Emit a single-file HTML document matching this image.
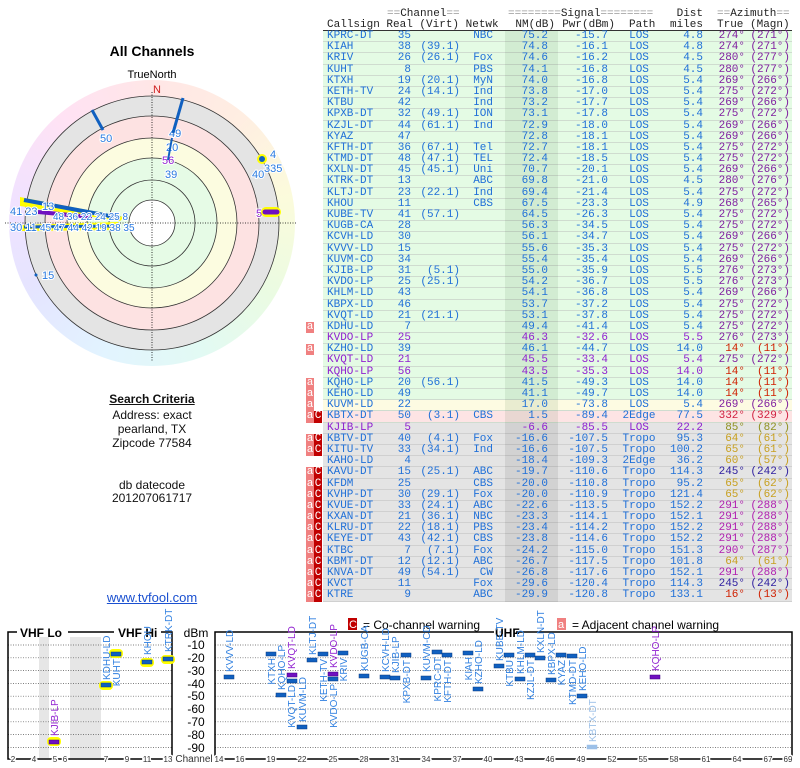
<!DOCTYPE html>
<html><head><meta charset="utf-8"><style>
body{margin:0;width:800px;height:768px;background:#fff;position:relative;overflow:hidden;font-family:"Liberation Sans",sans-serif}
#tbl{position:absolute;left:0;top:31px;width:800px;font:11px/11.2px "Liberation Mono",monospace;color:#2070d8}
.r{position:relative;height:11.2px;white-space:pre}
.r>span{position:absolute;top:0}
.bg{left:323px;width:469px;height:10.2px;border-bottom:1px solid #cfdccf}
.g .bg{background:#e4fbe4}.y .bg{background:#fdfbe2}.p .bg{background:#fde4e4}.q .bg{background:#e4e4e4;border-color:#d0d0d0}
.sh{left:505px;width:53px;height:11.2px;background:rgba(0,60,0,.08)}
.q .sh{background:rgba(0,0,0,.08)}
.c{left:327px}.re{right:389px}.vi{right:340px}.ne{right:307px}.nm{right:252px}.pw{right:192px}.pa{left:614px;width:50px;text-align:center}.di{right:97px}.tr{right:55px}.mg{right:10px}
.A{left:306px;width:8px;background:#f08080;color:#fff;text-align:center}
.C{left:314px;width:8px;background:#c00000;color:#fff;text-align:center}
.pu{color:#9020d0}
.z1 .tr,.z1 .mg{color:#8020a0}.z2 .tr,.z2 .mg{color:#d02000}.z3 .tr,.z3 .mg{color:#d02040}.z4 .tr,.z4 .mg{color:#909020}.z5 .tr,.z5 .mg{color:#c8a020}.z6 .tr,.z6 .mg{color:#3020a0}.z7 .tr,.z7 .mg{color:#b020b0}
#hd{position:absolute;left:0;top:9px;width:800px;font:11px/11px "Liberation Mono",monospace;color:#222}
#hd div{position:relative;height:11px;white-space:pre}#hd span{position:absolute}
.e{color:#999}
.lt{position:absolute;width:304px;text-align:center;font-size:12px;color:#111}
</style></head><body>
<div style="position:absolute;left:9px;top:80px;width:286px;height:286px;border-radius:50%;opacity:.75;background:conic-gradient(#ffdede,#ffe8d8,#fafad0,#e4fad8,#d8f8f0,#d8f0ff,#dcdcff,#ecd8ff,#ffd8f0,#ffdede)"></div>
<svg width="800" height="768" style="position:absolute;left:0;top:0" font-family="Liberation Sans, sans-serif">
<text x="152" y="56" text-anchor="middle" font-size="14" font-weight="bold">All Channels</text>
<text x="152" y="78" text-anchor="middle" font-size="11">TrueNorth</text>
<circle cx="152" cy="223" r="127" fill="#e4e4e4"/>
<circle cx="152" cy="223" r="107" fill="#fde2e2"/>
<circle cx="152" cy="223" r="85" fill="#fcfce0"/>
<circle cx="152" cy="223" r="65" fill="#e6fbe6"/>
<circle cx="152" cy="223" r="23" fill="#fff"/>
<g fill="none" stroke="#333" stroke-width="0.8"><circle cx="152" cy="223" r="127"/><circle cx="152" cy="223" r="107"/><circle cx="152" cy="223" r="85"/><circle cx="152" cy="223" r="65"/><circle cx="152" cy="223" r="43"/><circle cx="152" cy="223" r="23"/></g>
<g stroke="#000" stroke-width="0.8" stroke-dasharray="1,1.5"><line x1="5" y1="223" x2="297" y2="223"/><line x1="152" y1="92" x2="152" y2="362"/></g>
<text x="157" y="93" text-anchor="middle" font-size="11" fill="#d02020">N</text>
<polygon points="20,197 124,217 120,221 20,206" fill="#ffff00"/>
<line x1="24" y1="200" x2="120" y2="218" stroke="#1060c0" stroke-width="4"/>
<polygon points="22,225 118,222 118,230 22,231" fill="#ffff00"/>
<line x1="24" y1="227" x2="115" y2="226" stroke="#1060c0" stroke-width="3"/>
<line x1="38" y1="212" x2="92" y2="217" stroke="#7010c0" stroke-width="4"/>
<g font-size="11" fill="#2a7ae0" stroke="#fff" stroke-width="2" paint-order="stroke">
<text x="42" y="210">13</text><text x="10" y="215">41 23</text>
<text x="53" y="220" font-size="10">48 36 22 24 25 8</text>
<text x="10" y="231">30 11</text><text x="40" y="231" font-size="10">45 47 44 42 19 38 35</text>
<text x="100" y="142">50</text><text x="169" y="137">49</text><text x="166" y="151">20</text><text x="165" y="178">39</text>
<text x="270" y="158">4</text><text x="252" y="178">40</text><text x="264" y="172">335</text><text x="42" y="279">15</text>
<text x="162" y="164" fill="#9020d0">56</text><text x="256" y="217" fill="#9020d0">5</text>
</g>
<line x1="92" y1="110" x2="103" y2="130" stroke="#1060c0" stroke-width="3"/>
<line x1="183" y1="98" x2="173" y2="133" stroke="#1060c0" stroke-width="3"/>
<line x1="172" y1="138" x2="168" y2="160" stroke="#1060c0" stroke-width="2"/>
<circle cx="262" cy="159" r="5" fill="#ffff00"/><circle cx="262" cy="159" r="3" fill="#1060c0"/>
<rect x="261" y="207" width="20" height="10" rx="5" fill="#ffff00"/><line x1="265" y1="212" x2="277" y2="212" stroke="#7010c0" stroke-width="5" stroke-linecap="round"/>
<circle cx="36" cy="275" r="1.5" fill="#1060c0"/>
<rect x="348" y="618" width="9" height="12" fill="#c00000"/><text x="349" y="628" font-size="11" fill="#fff">C</text>
<text x="363" y="629" font-size="12">= Co-channel warning</text>
<rect x="557" y="618" width="9" height="12" fill="#f08080"/><text x="558" y="628" font-size="11" fill="#fff">a</text>
<text x="572" y="629" font-size="12">= Adjacent channel warning</text>
<rect x="39" y="637" width="10" height="121" fill="#e6e6e6"/><rect x="70" y="637" width="31" height="121" fill="#e6e6e6"/>
<g stroke="#555" stroke-width="0.7" stroke-dasharray="1,1.5">
<line x1="8" y1="645" x2="172" y2="645"/><line x1="8" y1="657.8" x2="172" y2="657.8"/><line x1="8" y1="670.6" x2="172" y2="670.6"/><line x1="8" y1="683.4" x2="172" y2="683.4"/><line x1="8" y1="696.2" x2="172" y2="696.2"/><line x1="8" y1="709" x2="172" y2="709"/><line x1="8" y1="721.8" x2="172" y2="721.8"/><line x1="8" y1="734.6" x2="172" y2="734.6"/><line x1="8" y1="747.4" x2="172" y2="747.4"/>
<line x1="215" y1="645" x2="792" y2="645"/><line x1="215" y1="657.8" x2="792" y2="657.8"/><line x1="215" y1="670.6" x2="792" y2="670.6"/><line x1="215" y1="683.4" x2="792" y2="683.4"/><line x1="215" y1="696.2" x2="792" y2="696.2"/><line x1="215" y1="709" x2="792" y2="709"/><line x1="215" y1="721.8" x2="792" y2="721.8"/><line x1="215" y1="734.6" x2="792" y2="734.6"/><line x1="215" y1="747.4" x2="792" y2="747.4"/>
</g>
<g fill="none" stroke="#000" stroke-width="1.5">
<polyline points="17,632 8,632 8,759 172,759 172,632 161,632"/><line x1="68" y1="632" x2="114" y2="632"/>
<polyline points="494,632 215,632 215,759 792,759 792,632 516,632"/>
</g>
<g font-size="12" font-weight="bold"><text x="20" y="637">VHF Lo</text><text x="118" y="637">VHF Hi</text><text x="495" y="637">UHF</text></g>
<g font-size="12" text-anchor="middle"><text x="196" y="637">dBm</text><text x="196" y="649">-10</text><text x="196" y="662">-20</text><text x="196" y="675">-30</text><text x="196" y="688">-40</text><text x="196" y="700">-50</text><text x="196" y="713">-60</text><text x="196" y="726">-70</text><text x="196" y="739">-80</text><text x="196" y="752">-90</text></g>
<g font-size="8" text-anchor="middle" fill="#333" stroke="#fff" stroke-width="3" paint-order="stroke">
<text x="13" y="762">2</text><text x="34" y="762">4</text><text x="55" y="762">5</text><text x="65" y="762">6</text><text x="106" y="762">7</text><text x="127" y="762">9</text><text x="147" y="762">11</text><text x="168" y="762">13</text>
<text x="194" y="762" font-size="10">Channel</text>
<text x="219" y="762">14</text><text x="240" y="762">16</text><text x="271" y="762">19</text><text x="302" y="762">22</text><text x="333" y="762">25</text><text x="364" y="762">28</text><text x="395" y="762">31</text><text x="426" y="762">34</text><text x="457" y="762">37</text><text x="488" y="762">40</text><text x="519" y="762">43</text><text x="550" y="762">46</text><text x="581" y="762">49</text><text x="612" y="762">52</text><text x="643" y="762">55</text><text x="674" y="762">58</text><text x="706" y="762">61</text><text x="737" y="762">64</text><text x="768" y="762">67</text><text x="788" y="762">69</text>
</g>
<g fill="#ffff00"><rect x="47" y="737" width="14" height="9" rx="4"/><rect x="99" y="681" width="14" height="9" rx="4"/><rect x="109" y="649" width="14" height="9" rx="4"/><rect x="140" y="658" width="14" height="9" rx="4"/><rect x="161" y="655" width="14" height="9" rx="4"/></g>
<g fill="#1060c0" stroke="#0a3a80" stroke-width="0.5">
<rect x="101" y="683" width="10" height="4"/><rect x="111" y="652" width="10" height="4"/><rect x="142" y="660" width="10" height="4"/><rect x="163" y="657" width="10" height="4"/>
<rect x="224" y="675" width="10" height="4"/><rect x="266" y="652" width="10" height="4"/><rect x="276" y="693" width="10" height="4"/><rect x="287" y="679" width="10" height="4"/><rect x="297" y="725" width="10" height="4"/><rect x="307" y="658" width="10" height="4"/><rect x="318" y="652" width="10" height="4"/><rect x="328" y="677" width="10" height="4"/><rect x="338" y="651" width="10" height="4"/><rect x="359" y="674" width="10" height="4"/><rect x="380" y="675" width="10" height="4"/><rect x="390" y="676" width="10" height="4"/><rect x="401" y="653" width="10" height="4"/><rect x="421" y="676" width="10" height="4"/><rect x="432" y="650" width="10" height="4"/><rect x="442" y="653" width="10" height="4"/><rect x="463" y="651" width="10" height="4"/><rect x="473" y="687" width="10" height="4"/><rect x="494" y="664" width="10" height="4"/><rect x="504" y="653" width="10" height="4"/><rect x="515" y="677" width="10" height="4"/><rect x="525" y="653" width="10" height="4"/><rect x="535" y="656" width="10" height="4"/><rect x="546" y="678" width="10" height="4"/><rect x="556" y="653" width="10" height="4"/><rect x="567" y="654" width="10" height="4"/><rect x="577" y="694" width="10" height="4"/>
<rect x="587" y="745" width="10" height="4" fill="#9cc0e8" stroke="#9cc0e8"/>
</g>
<g fill="#7010c0" stroke="#400080" stroke-width="0.5"><rect x="49" y="740" width="10" height="4"/><rect x="287" y="673" width="10" height="4"/><rect x="328" y="672" width="10" height="4"/><rect x="650" y="675" width="10" height="4"/></g>
<g font-size="10" fill="#3080e0">
<text transform="translate(110,680) rotate(-90)">KDHU-LD</text>
<text transform="translate(120,659) rotate(-90)" text-anchor="end">KUHT</text>
<text transform="translate(151,655) rotate(-90)">KHOU</text>
<text transform="translate(172,652) rotate(-90)">KTRK-DT</text>
<text transform="translate(233,672) rotate(-90)">KVVV-LD</text>
<text transform="translate(275,658) rotate(-90)" text-anchor="end">KTXH</text>
<text transform="translate(285,690) rotate(-90)">KQHO-LP</text>
<text transform="translate(295,685) rotate(-90)" text-anchor="end">KVQT-LD</text>
<text transform="translate(306,722) rotate(-90)">KUVM-LD</text>
<text transform="translate(316,655) rotate(-90)">KLTJ-DT</text>
<text transform="translate(327,659) rotate(-90)" text-anchor="end">KETH-TV</text>
<text transform="translate(337,684) rotate(-90)" text-anchor="end">KVDO-LP</text>
<text transform="translate(347,658) rotate(-90)" text-anchor="end">KRIV</text>
<text transform="translate(368,671) rotate(-90)">KUGB-CA</text>
<text transform="translate(389,672) rotate(-90)">KCVH-LD</text>
<text transform="translate(399,673) rotate(-90)">KJIB-LP</text>
<text transform="translate(410,660) rotate(-90)" text-anchor="end">KPXB-DT</text>
<text transform="translate(430,672) rotate(-90)">KUVM-CD</text>
<text transform="translate(441,657) rotate(-90)" text-anchor="end">KPRC-DT</text>
<text transform="translate(451,660) rotate(-90)" text-anchor="end">KFTH-DT</text>
<text transform="translate(472,657) rotate(-90)" text-anchor="end">KIAH</text>
<text transform="translate(482,684) rotate(-90)">KZHO-LD</text>
<text transform="translate(503,661) rotate(-90)">KUBE-TV</text>
<text transform="translate(513,660) rotate(-90)" text-anchor="end">KTBU</text>
<text transform="translate(524,674) rotate(-90)">KHLM-LD</text>
<text transform="translate(534,660) rotate(-90)" text-anchor="end">KZJL-DT</text>
<text transform="translate(544,653) rotate(-90)">KXLN-DT</text>
<text transform="translate(555,675) rotate(-90)">KBPX-LD</text>
<text transform="translate(565,660) rotate(-90)" text-anchor="end">KYAZ</text>
<text transform="translate(576,660) rotate(-90)" text-anchor="end">KTMD-DT</text>
<text transform="translate(586,691) rotate(-90)">KEHO-LD</text>
<text transform="translate(596,742) rotate(-90)" fill="#9cc0e8">KBTX-DT</text>
</g>
<g font-size="10" fill="#9020d0">
<text transform="translate(58,736) rotate(-90)">KJIB-LP</text>
<text transform="translate(295,669) rotate(-90)">KVQT-LD</text>
<text transform="translate(337,668) rotate(-90)">KVDO-LP</text>
<text transform="translate(659,671) rotate(-90)">KQHO-LP</text>
</g>
</svg>
<div class="lt" style="top:392px;font-weight:bold;text-decoration:underline">Search Criteria</div>
<div class="lt" style="top:408px">Address: exact</div>
<div class="lt" style="top:422px">pearland, TX</div>
<div class="lt" style="top:436px">Zipcode 77584</div>
<div class="lt" style="top:478px">db datecode</div>
<div class="lt" style="top:491px">201207061717</div>
<div class="lt" style="top:590px;font-size:13px;color:#1a50d0;text-decoration:underline">www.tvfool.com</div>
<div id="hd">
<div><span style="left:387px"><span class="e" style="position:static">==</span>Channel<span class="e" style="position:static">==</span></span><span style="left:508px"><span class="e" style="position:static">========</span>Signal<span class="e" style="position:static">========</span></span><span style="right:97px">Dist</span><span style="left:717px"><span class="e" style="position:static">==</span>Azimuth<span class="e" style="position:static">==</span></span></div>
<div><span style="left:327px">Callsign Real (Virt) Netwk</span><span style="right:245px">NM(dB)</span><span style="right:185px">Pwr(dBm)</span><span style="left:629px">Path</span><span style="right:97px">miles</span><span style="left:717px">True (Magn)</span></div>
</div>
<div style="position:absolute;left:323px;top:30px;width:469px;height:1px;background:#333"></div>
<div id="tbl">
<div class="r g z1"><span class="bg"></span><span class="sh"></span><span class="c">KPRC-DT</span><span class="re">35</span><span class="ne">NBC</span><span class="nm">75.2</span><span class="pw">-15.7</span><span class="pa">LOS</span><span class="di">4.8</span><span class="tr">274°</span><span class="mg">(271°)</span></div>
<div class="r g z1"><span class="bg"></span><span class="sh"></span><span class="c">KIAH</span><span class="re">38</span><span class="vi">(39.1)</span><span class="nm">74.8</span><span class="pw">-16.1</span><span class="pa">LOS</span><span class="di">4.8</span><span class="tr">274°</span><span class="mg">(271°)</span></div>
<div class="r g z1"><span class="bg"></span><span class="sh"></span><span class="c">KRIV</span><span class="re">26</span><span class="vi">(26.1)</span><span class="ne">Fox</span><span class="nm">74.6</span><span class="pw">-16.2</span><span class="pa">LOS</span><span class="di">4.5</span><span class="tr">280°</span><span class="mg">(277°)</span></div>
<div class="r g z1"><span class="bg"></span><span class="sh"></span><span class="c">KUHT</span><span class="re">8</span><span class="ne">PBS</span><span class="nm">74.1</span><span class="pw">-16.8</span><span class="pa">LOS</span><span class="di">4.5</span><span class="tr">280°</span><span class="mg">(277°)</span></div>
<div class="r g z1"><span class="bg"></span><span class="sh"></span><span class="c">KTXH</span><span class="re">19</span><span class="vi">(20.1)</span><span class="ne">MyN</span><span class="nm">74.0</span><span class="pw">-16.8</span><span class="pa">LOS</span><span class="di">5.4</span><span class="tr">269°</span><span class="mg">(266°)</span></div>
<div class="r g z1"><span class="bg"></span><span class="sh"></span><span class="c">KETH-TV</span><span class="re">24</span><span class="vi">(14.1)</span><span class="ne">Ind</span><span class="nm">73.8</span><span class="pw">-17.0</span><span class="pa">LOS</span><span class="di">5.4</span><span class="tr">275°</span><span class="mg">(272°)</span></div>
<div class="r g z1"><span class="bg"></span><span class="sh"></span><span class="c">KTBU</span><span class="re">42</span><span class="ne">Ind</span><span class="nm">73.2</span><span class="pw">-17.7</span><span class="pa">LOS</span><span class="di">5.4</span><span class="tr">269°</span><span class="mg">(266°)</span></div>
<div class="r g z1"><span class="bg"></span><span class="sh"></span><span class="c">KPXB-DT</span><span class="re">32</span><span class="vi">(49.1)</span><span class="ne">ION</span><span class="nm">73.1</span><span class="pw">-17.8</span><span class="pa">LOS</span><span class="di">5.4</span><span class="tr">275°</span><span class="mg">(272°)</span></div>
<div class="r g z1"><span class="bg"></span><span class="sh"></span><span class="c">KZJL-DT</span><span class="re">44</span><span class="vi">(61.1)</span><span class="ne">Ind</span><span class="nm">72.9</span><span class="pw">-18.0</span><span class="pa">LOS</span><span class="di">5.4</span><span class="tr">269°</span><span class="mg">(266°)</span></div>
<div class="r g z1"><span class="bg"></span><span class="sh"></span><span class="c">KYAZ</span><span class="re">47</span><span class="nm">72.8</span><span class="pw">-18.1</span><span class="pa">LOS</span><span class="di">5.4</span><span class="tr">269°</span><span class="mg">(266°)</span></div>
<div class="r g z1"><span class="bg"></span><span class="sh"></span><span class="c">KFTH-DT</span><span class="re">36</span><span class="vi">(67.1)</span><span class="ne">Tel</span><span class="nm">72.7</span><span class="pw">-18.1</span><span class="pa">LOS</span><span class="di">5.4</span><span class="tr">275°</span><span class="mg">(272°)</span></div>
<div class="r g z1"><span class="bg"></span><span class="sh"></span><span class="c">KTMD-DT</span><span class="re">48</span><span class="vi">(47.1)</span><span class="ne">TEL</span><span class="nm">72.4</span><span class="pw">-18.5</span><span class="pa">LOS</span><span class="di">5.4</span><span class="tr">275°</span><span class="mg">(272°)</span></div>
<div class="r g z1"><span class="bg"></span><span class="sh"></span><span class="c">KXLN-DT</span><span class="re">45</span><span class="vi">(45.1)</span><span class="ne">Uni</span><span class="nm">70.7</span><span class="pw">-20.1</span><span class="pa">LOS</span><span class="di">5.4</span><span class="tr">269°</span><span class="mg">(266°)</span></div>
<div class="r g z1"><span class="bg"></span><span class="sh"></span><span class="c">KTRK-DT</span><span class="re">13</span><span class="ne">ABC</span><span class="nm">69.8</span><span class="pw">-21.0</span><span class="pa">LOS</span><span class="di">4.5</span><span class="tr">280°</span><span class="mg">(276°)</span></div>
<div class="r g z1"><span class="bg"></span><span class="sh"></span><span class="c">KLTJ-DT</span><span class="re">23</span><span class="vi">(22.1)</span><span class="ne">Ind</span><span class="nm">69.4</span><span class="pw">-21.4</span><span class="pa">LOS</span><span class="di">5.4</span><span class="tr">275°</span><span class="mg">(272°)</span></div>
<div class="r g z1"><span class="bg"></span><span class="sh"></span><span class="c">KHOU</span><span class="re">11</span><span class="ne">CBS</span><span class="nm">67.5</span><span class="pw">-23.3</span><span class="pa">LOS</span><span class="di">4.9</span><span class="tr">268°</span><span class="mg">(265°)</span></div>
<div class="r g z1"><span class="bg"></span><span class="sh"></span><span class="c">KUBE-TV</span><span class="re">41</span><span class="vi">(57.1)</span><span class="nm">64.5</span><span class="pw">-26.3</span><span class="pa">LOS</span><span class="di">5.4</span><span class="tr">275°</span><span class="mg">(272°)</span></div>
<div class="r g z1"><span class="bg"></span><span class="sh"></span><span class="c">KUGB-CA</span><span class="re">28</span><span class="nm">56.3</span><span class="pw">-34.5</span><span class="pa">LOS</span><span class="di">5.4</span><span class="tr">275°</span><span class="mg">(272°)</span></div>
<div class="r g z1"><span class="bg"></span><span class="sh"></span><span class="c">KCVH-LD</span><span class="re">30</span><span class="nm">56.1</span><span class="pw">-34.7</span><span class="pa">LOS</span><span class="di">5.4</span><span class="tr">269°</span><span class="mg">(266°)</span></div>
<div class="r g z1"><span class="bg"></span><span class="sh"></span><span class="c">KVVV-LD</span><span class="re">15</span><span class="nm">55.6</span><span class="pw">-35.3</span><span class="pa">LOS</span><span class="di">5.4</span><span class="tr">275°</span><span class="mg">(272°)</span></div>
<div class="r g z1"><span class="bg"></span><span class="sh"></span><span class="c">KUVM-CD</span><span class="re">34</span><span class="nm">55.4</span><span class="pw">-35.4</span><span class="pa">LOS</span><span class="di">5.4</span><span class="tr">269°</span><span class="mg">(266°)</span></div>
<div class="r g z1"><span class="bg"></span><span class="sh"></span><span class="c">KJIB-LP</span><span class="re">31</span><span class="vi">(5.1)</span><span class="nm">55.0</span><span class="pw">-35.9</span><span class="pa">LOS</span><span class="di">5.5</span><span class="tr">276°</span><span class="mg">(273°)</span></div>
<div class="r g z1"><span class="bg"></span><span class="sh"></span><span class="c">KVDO-LP</span><span class="re">25</span><span class="vi">(25.1)</span><span class="nm">54.2</span><span class="pw">-36.7</span><span class="pa">LOS</span><span class="di">5.5</span><span class="tr">276°</span><span class="mg">(273°)</span></div>
<div class="r g z1"><span class="bg"></span><span class="sh"></span><span class="c">KHLM-LD</span><span class="re">43</span><span class="nm">54.1</span><span class="pw">-36.8</span><span class="pa">LOS</span><span class="di">5.4</span><span class="tr">269°</span><span class="mg">(266°)</span></div>
<div class="r g z1"><span class="bg"></span><span class="sh"></span><span class="c">KBPX-LD</span><span class="re">46</span><span class="nm">53.7</span><span class="pw">-37.2</span><span class="pa">LOS</span><span class="di">5.4</span><span class="tr">275°</span><span class="mg">(272°)</span></div>
<div class="r g z1"><span class="bg"></span><span class="sh"></span><span class="c">KVQT-LD</span><span class="re">21</span><span class="vi">(21.1)</span><span class="nm">53.1</span><span class="pw">-37.8</span><span class="pa">LOS</span><span class="di">5.4</span><span class="tr">275°</span><span class="mg">(272°)</span></div>
<div class="r g z1"><span class="A">a</span><span class="bg"></span><span class="sh"></span><span class="c">KDHU-LD</span><span class="re">7</span><span class="nm">49.4</span><span class="pw">-41.4</span><span class="pa">LOS</span><span class="di">5.4</span><span class="tr">275°</span><span class="mg">(272°)</span></div>
<div class="r g z1 pu"><span class="bg"></span><span class="sh"></span><span class="c">KVDO-LP</span><span class="re">25</span><span class="nm">46.3</span><span class="pw">-32.6</span><span class="pa">LOS</span><span class="di">5.5</span><span class="tr">276°</span><span class="mg">(273°)</span></div>
<div class="r g z2"><span class="A">a</span><span class="bg"></span><span class="sh"></span><span class="c">KZHO-LD</span><span class="re">39</span><span class="nm">46.1</span><span class="pw">-44.7</span><span class="pa">LOS</span><span class="di">14.0</span><span class="tr">14°</span><span class="mg">(11°)</span></div>
<div class="r g z1 pu"><span class="bg"></span><span class="sh"></span><span class="c">KVQT-LD</span><span class="re">21</span><span class="nm">45.5</span><span class="pw">-33.4</span><span class="pa">LOS</span><span class="di">5.4</span><span class="tr">275°</span><span class="mg">(272°)</span></div>
<div class="r g z2 pu"><span class="bg"></span><span class="sh"></span><span class="c">KQHO-LP</span><span class="re">56</span><span class="nm">43.5</span><span class="pw">-35.3</span><span class="pa">LOS</span><span class="di">14.0</span><span class="tr">14°</span><span class="mg">(11°)</span></div>
<div class="r g z2"><span class="A">a</span><span class="bg"></span><span class="sh"></span><span class="c">KQHO-LP</span><span class="re">20</span><span class="vi">(56.1)</span><span class="nm">41.5</span><span class="pw">-49.3</span><span class="pa">LOS</span><span class="di">14.0</span><span class="tr">14°</span><span class="mg">(11°)</span></div>
<div class="r g z2"><span class="A">a</span><span class="bg"></span><span class="sh"></span><span class="c">KEHO-LD</span><span class="re">49</span><span class="nm">41.1</span><span class="pw">-49.7</span><span class="pa">LOS</span><span class="di">14.0</span><span class="tr">14°</span><span class="mg">(11°)</span></div>
<div class="r y z1"><span class="A">a</span><span class="bg"></span><span class="sh"></span><span class="c">KUVM-LD</span><span class="re">22</span><span class="nm">17.0</span><span class="pw">-73.8</span><span class="pa">LOS</span><span class="di">5.4</span><span class="tr">269°</span><span class="mg">(266°)</span></div>
<div class="r p z3"><span class="A">a</span><span class="C">C</span><span class="bg"></span><span class="sh"></span><span class="c">KBTX-DT</span><span class="re">50</span><span class="vi">(3.1)</span><span class="ne">CBS</span><span class="nm">1.5</span><span class="pw">-89.4</span><span class="pa">2Edge</span><span class="di">77.5</span><span class="tr">332°</span><span class="mg">(329°)</span></div>
<div class="r q z4 pu"><span class="bg"></span><span class="sh"></span><span class="c">KJIB-LP</span><span class="re">5</span><span class="nm">-6.6</span><span class="pw">-85.5</span><span class="pa">LOS</span><span class="di">22.2</span><span class="tr">85°</span><span class="mg">(82°)</span></div>
<div class="r q z5"><span class="A">a</span><span class="C">C</span><span class="bg"></span><span class="sh"></span><span class="c">KBTV-DT</span><span class="re">40</span><span class="vi">(4.1)</span><span class="ne">Fox</span><span class="nm">-16.6</span><span class="pw">-107.5</span><span class="pa">Tropo</span><span class="di">95.3</span><span class="tr">64°</span><span class="mg">(61°)</span></div>
<div class="r q z5"><span class="A">a</span><span class="C">C</span><span class="bg"></span><span class="sh"></span><span class="c">KITU-TV</span><span class="re">33</span><span class="vi">(34.1)</span><span class="ne">Ind</span><span class="nm">-16.6</span><span class="pw">-107.5</span><span class="pa">Tropo</span><span class="di">100.2</span><span class="tr">65°</span><span class="mg">(61°)</span></div>
<div class="r q z5"><span class="bg"></span><span class="sh"></span><span class="c">KAHO-LD</span><span class="re">4</span><span class="nm">-18.4</span><span class="pw">-109.3</span><span class="pa">2Edge</span><span class="di">36.2</span><span class="tr">60°</span><span class="mg">(57°)</span></div>
<div class="r q z6"><span class="A">a</span><span class="C">C</span><span class="bg"></span><span class="sh"></span><span class="c">KAVU-DT</span><span class="re">15</span><span class="vi">(25.1)</span><span class="ne">ABC</span><span class="nm">-19.7</span><span class="pw">-110.6</span><span class="pa">Tropo</span><span class="di">114.3</span><span class="tr">245°</span><span class="mg">(242°)</span></div>
<div class="r q z5"><span class="A">a</span><span class="C">C</span><span class="bg"></span><span class="sh"></span><span class="c">KFDM</span><span class="re">25</span><span class="ne">CBS</span><span class="nm">-20.0</span><span class="pw">-110.8</span><span class="pa">Tropo</span><span class="di">95.2</span><span class="tr">65°</span><span class="mg">(62°)</span></div>
<div class="r q z5"><span class="A">a</span><span class="C">C</span><span class="bg"></span><span class="sh"></span><span class="c">KVHP-DT</span><span class="re">30</span><span class="vi">(29.1)</span><span class="ne">Fox</span><span class="nm">-20.0</span><span class="pw">-110.9</span><span class="pa">Tropo</span><span class="di">121.4</span><span class="tr">65°</span><span class="mg">(62°)</span></div>
<div class="r q z7"><span class="A">a</span><span class="C">C</span><span class="bg"></span><span class="sh"></span><span class="c">KVUE-DT</span><span class="re">33</span><span class="vi">(24.1)</span><span class="ne">ABC</span><span class="nm">-22.6</span><span class="pw">-113.5</span><span class="pa">Tropo</span><span class="di">152.2</span><span class="tr">291°</span><span class="mg">(288°)</span></div>
<div class="r q z7"><span class="A">a</span><span class="C">C</span><span class="bg"></span><span class="sh"></span><span class="c">KXAN-DT</span><span class="re">21</span><span class="vi">(36.1)</span><span class="ne">NBC</span><span class="nm">-23.3</span><span class="pw">-114.1</span><span class="pa">Tropo</span><span class="di">152.1</span><span class="tr">291°</span><span class="mg">(288°)</span></div>
<div class="r q z7"><span class="A">a</span><span class="C">C</span><span class="bg"></span><span class="sh"></span><span class="c">KLRU-DT</span><span class="re">22</span><span class="vi">(18.1)</span><span class="ne">PBS</span><span class="nm">-23.4</span><span class="pw">-114.2</span><span class="pa">Tropo</span><span class="di">152.2</span><span class="tr">291°</span><span class="mg">(288°)</span></div>
<div class="r q z7"><span class="A">a</span><span class="C">C</span><span class="bg"></span><span class="sh"></span><span class="c">KEYE-DT</span><span class="re">43</span><span class="vi">(42.1)</span><span class="ne">CBS</span><span class="nm">-23.8</span><span class="pw">-114.6</span><span class="pa">Tropo</span><span class="di">152.2</span><span class="tr">291°</span><span class="mg">(288°)</span></div>
<div class="r q z7"><span class="A">a</span><span class="C">C</span><span class="bg"></span><span class="sh"></span><span class="c">KTBC</span><span class="re">7</span><span class="vi">(7.1)</span><span class="ne">Fox</span><span class="nm">-24.2</span><span class="pw">-115.0</span><span class="pa">Tropo</span><span class="di">151.3</span><span class="tr">290°</span><span class="mg">(287°)</span></div>
<div class="r q z5"><span class="A">a</span><span class="C">C</span><span class="bg"></span><span class="sh"></span><span class="c">KBMT-DT</span><span class="re">12</span><span class="vi">(12.1)</span><span class="ne">ABC</span><span class="nm">-26.7</span><span class="pw">-117.5</span><span class="pa">Tropo</span><span class="di">101.8</span><span class="tr">64°</span><span class="mg">(61°)</span></div>
<div class="r q z7"><span class="A">a</span><span class="C">C</span><span class="bg"></span><span class="sh"></span><span class="c">KNVA-DT</span><span class="re">49</span><span class="vi">(54.1)</span><span class="ne">CW</span><span class="nm">-26.8</span><span class="pw">-117.6</span><span class="pa">Tropo</span><span class="di">152.1</span><span class="tr">291°</span><span class="mg">(288°)</span></div>
<div class="r q z6"><span class="A">a</span><span class="C">C</span><span class="bg"></span><span class="sh"></span><span class="c">KVCT</span><span class="re">11</span><span class="ne">Fox</span><span class="nm">-29.6</span><span class="pw">-120.4</span><span class="pa">Tropo</span><span class="di">114.3</span><span class="tr">245°</span><span class="mg">(242°)</span></div>
<div class="r q z2"><span class="A">a</span><span class="C">C</span><span class="bg"></span><span class="sh"></span><span class="c">KTRE</span><span class="re">9</span><span class="ne">ABC</span><span class="nm">-29.9</span><span class="pw">-120.8</span><span class="pa">Tropo</span><span class="di">133.1</span><span class="tr">16°</span><span class="mg">(13°)</span></div>
</div>
</body></html>
